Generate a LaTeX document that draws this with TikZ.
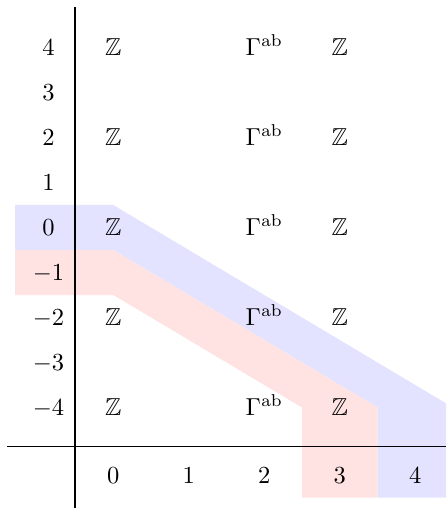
\documentclass[tikz,border=0pt]{standalone}
\usepackage{amssymb}
\tikzset{
  lbl/.style={inner sep=0pt, anchor=base},
  axis/.style={line width=0.45pt, black},
  bandblue/.style={fill=blue!11, draw=none},
  bandred/.style={fill=red!11, draw=none}
}
\begin{document}
\begin{tikzpicture}[x=0.408pt, y=-0.408pt]
\useasboundingbox (0,0) rectangle (446,508);
% bands
\fill[bandblue] (15,205) -- (113.3,205) -- (446,403.3) -- (446,497.5) -- (377.6,497.5) -- (377.6,407.5) -- (113.3,250) -- (15,250) -- cycle;
\fill[bandred] (15,250) -- (113.3,250) -- (377.6,407.5) -- (377.6,497.5) -- (302,497.5) -- (302,407.5) -- (113.3,295) -- (15,295) -- cycle;
% axes
\coordinate (vtop) at (75,7);
\coordinate (vbot) at (75,508);
\coordinate (hl) at (7,446.5);
\coordinate (hr) at (446,446.5);
\draw[axis] (vtop) -- (vbot);
\draw[axis] (hl) -- (hr);
% row labels (baseline = row centre + 8)
\node[lbl] (r4) at (48.5,55.5) {$4$};
\node[lbl] (r3) at (48.5,100.5) {$3$};
\node[lbl] (r2) at (48.5,145.5) {$2$};
\node[lbl] (r1) at (48.5,190.5) {$1$};
\node[lbl] (r0) at (48.5,235.5) {$0$};
\node[lbl] (rm1) at (48.5,280.5) {$-1$};
\node[lbl] (rm2) at (48.5,325.5) {$-2$};
\node[lbl] (rm3) at (48.5,370.5) {$-3$};
\node[lbl] (rm4) at (48.5,415.5) {$-4$};
% column labels
\node[lbl] (c0) at (113.3,483.5) {$0$};
\node[lbl] (c1) at (188.8,483.5) {$1$};
\node[lbl] (c2) at (264.3,483.5) {$2$};
\node[lbl] (c3) at (339.8,483.5) {$3$};
\node[lbl] (c4) at (415.3,483.5) {$4$};
% entries
\foreach \r/\y in {4/55.5, 2/145.5, 0/235.5, m2/325.5, m4/415.5}{
  \node[lbl] (z0\r) at (113.3,\y) {$\mathbb{Z}$};
  \node[lbl] (g\r) at (264.3,\y) {$\Gamma^{\mathrm{ab}}$};
  \node[lbl] (z3\r) at (339.8,\y) {$\mathbb{Z}$};
}
\end{tikzpicture}
\end{document}
